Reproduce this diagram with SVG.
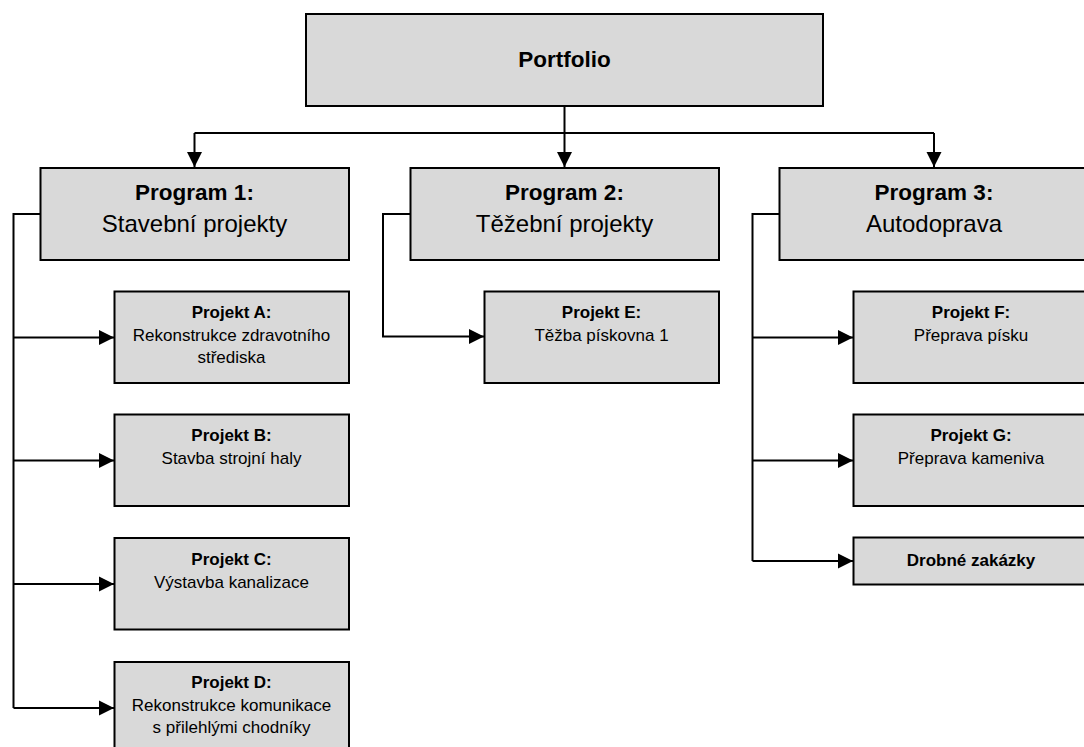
<svg xmlns="http://www.w3.org/2000/svg" width="1084" height="747" viewBox="0 0 1084 747">
  <style>
    .box { fill: #d9d9d9; stroke: #000; stroke-width: 2; }
    .link { fill: none; stroke: #000; stroke-width: 2; }
    text { font-family: "Liberation Sans", Arial, sans-serif; fill: #000; text-anchor: middle; }
    .top { font-size: 22.5px; font-weight: bold; }
    .prog-b { font-size: 22.5px; font-weight: bold; }
    .prog { font-size: 24px; }
    .proj-b { font-size: 17px; font-weight: bold; }
    .proj { font-size: 17px; }
  </style>
  <defs>
    <marker id="arrow" markerUnits="userSpaceOnUse" viewBox="0 0 15 16" refX="15" refY="8" markerWidth="15" markerHeight="16" orient="auto">
      <path d="M0,0.5 L15,8 L0,15.5 Z" fill="#000"/>
    </marker>
  </defs>

  <rect width="1084" height="747" fill="#fff"/>

  <!-- connectors -->
  <g id="connectors">
    <path class="link" d="M564.5,106 V133"/>
    <path class="link" d="M194.5,133 H934"/>
    <path class="link" d="M194.5,133 V167" marker-end="url(#arrow)"/>
    <path class="link" d="M564.5,133 V167" marker-end="url(#arrow)"/>
    <path class="link" d="M934,133 V167" marker-end="url(#arrow)"/>

    <!-- Program 1 branches -->
    <path class="link" d="M40,214 H13.5 V708"/>
    <path class="link" d="M13.5,337.5 H114" marker-end="url(#arrow)"/>
    <path class="link" d="M13.5,460.5 H114" marker-end="url(#arrow)"/>
    <path class="link" d="M13.5,584 H114" marker-end="url(#arrow)"/>
    <path class="link" d="M13.5,708 H114" marker-end="url(#arrow)"/>

    <!-- Program 2 branch -->
    <path class="link" d="M410,214 H383 V336.5 H484" marker-end="url(#arrow)"/>

    <!-- Program 3 branches -->
    <path class="link" d="M779,214 H752.5 V561"/>
    <path class="link" d="M752.5,337.5 H853" marker-end="url(#arrow)"/>
    <path class="link" d="M752.5,460.5 H853" marker-end="url(#arrow)"/>
    <path class="link" d="M752.5,561 H853" marker-end="url(#arrow)"/>
  </g>

  <g id="portfolio">
    <rect class="box" x="306" y="14" width="517" height="92"/>
    <text class="top" x="564.5" y="67">Portfolio</text>
  </g>

  <g id="program1">
    <rect class="box" x="40.5" y="168" width="308.5" height="92"/>
    <text class="prog-b" x="194.5" y="200">Program 1:</text>
    <text class="prog" x="194.5" y="231.5">Stavební projekty</text>
  </g>

  <g id="program2">
    <rect class="box" x="410.5" y="168" width="308.5" height="92"/>
    <text class="prog-b" x="564.5" y="200">Program 2:</text>
    <text class="prog" x="564.5" y="231.5">Těžební projekty</text>
  </g>

  <g id="program3">
    <rect class="box" x="779.5" y="168" width="308.5" height="92"/>
    <text class="prog-b" x="934" y="200">Program 3:</text>
    <text class="prog" x="934" y="231.5">Autodoprava</text>
  </g>

  <g id="projektA">
    <rect class="box" x="114.5" y="291.5" width="234.5" height="91.5"/>
    <text class="proj-b" x="231.5" y="318">Projekt A:</text>
    <text class="proj" x="231.5" y="340.5">Rekonstrukce zdravotního</text>
    <text class="proj" x="231.5" y="362.5">střediska</text>
  </g>

  <g id="projektB">
    <rect class="box" x="114.5" y="414.5" width="234.5" height="91.5"/>
    <text class="proj-b" x="231.5" y="441">Projekt B:</text>
    <text class="proj" x="231.5" y="464">Stavba strojní haly</text>
  </g>

  <g id="projektC">
    <rect class="box" x="114.5" y="538" width="234.5" height="91.5"/>
    <text class="proj-b" x="231.5" y="564.5">Projekt C:</text>
    <text class="proj" x="231.5" y="587.5">Výstavba kanalizace</text>
  </g>

  <g id="projektD">
    <rect class="box" x="114.5" y="662" width="234.5" height="91.5"/>
    <text class="proj-b" x="231.5" y="688">Projekt D:</text>
    <text class="proj" x="231.5" y="711">Rekonstrukce komunikace</text>
    <text class="proj" x="231.5" y="733">s přilehlými chodníky</text>
  </g>

  <g id="projektE">
    <rect class="box" x="484.5" y="291.5" width="234.5" height="91.5"/>
    <text class="proj-b" x="601.5" y="318">Projekt E:</text>
    <text class="proj" x="601.5" y="341">Těžba pískovna 1</text>
  </g>

  <g id="projektF">
    <rect class="box" x="853.5" y="291.5" width="234.5" height="91.5"/>
    <text class="proj-b" x="971" y="318">Projekt F:</text>
    <text class="proj" x="971" y="341">Přeprava písku</text>
  </g>

  <g id="projektG">
    <rect class="box" x="853.5" y="414.5" width="234.5" height="91.5"/>
    <text class="proj-b" x="971" y="441">Projekt G:</text>
    <text class="proj" x="971" y="464">Přeprava kameniva</text>
  </g>

  <g id="drobne">
    <rect class="box" x="853.5" y="537.5" width="234.5" height="47"/>
    <text class="proj-b" x="971" y="566">Drobné zakázky</text>
  </g>
</svg>
